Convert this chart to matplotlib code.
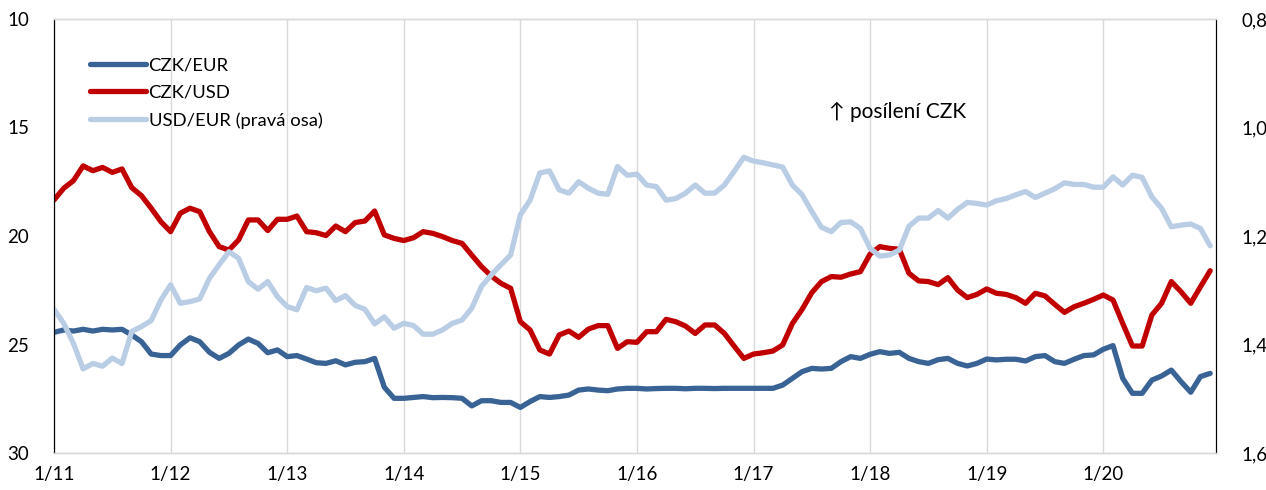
import matplotlib
matplotlib.use('Agg')

import numpy as np
import matplotlib.pyplot as plt
from matplotlib.ticker import FuncFormatter

# monthly averages, 1/2011 - 12/2020
czk_eur = [24.44, 24.33, 24.38, 24.30, 24.38, 24.30, 24.33, 24.30, 24.56, 24.87,
           25.44, 25.51, 25.51, 25.02, 24.69, 24.87, 25.36, 25.64, 25.41, 25.02,
           24.75, 24.95, 25.38, 25.25, 25.56, 25.51, 25.67, 25.84, 25.87, 25.75,
           25.94, 25.82, 25.79, 25.64, 26.97, 27.48, 27.48, 27.44, 27.40, 27.45,
           27.44, 27.45, 27.48, 27.83, 27.59, 27.59, 27.67, 27.67, 27.90, 27.63,
           27.40, 27.44, 27.40, 27.33, 27.10, 27.05, 27.10, 27.13, 27.05, 27.02,
           27.02, 27.05, 27.03, 27.02, 27.02, 27.04, 27.02, 27.02, 27.03, 27.02,
           27.02, 27.02, 27.02, 27.02, 27.02, 26.87, 26.56, 26.25, 26.10, 26.13,
           26.10, 25.79, 25.56, 25.64, 25.45, 25.33, 25.41, 25.36, 25.64, 25.79,
           25.87, 25.70, 25.64, 25.87, 25.99, 25.87, 25.67, 25.71, 25.68, 25.68,
           25.76, 25.56, 25.51, 25.79, 25.87, 25.68, 25.51, 25.48, 25.22, 25.05,
           26.56, 27.25, 27.25, 26.64, 26.45, 26.18, 26.71, 27.20, 26.48, 26.33]

czk_usd = [18.34, 17.80, 17.45, 16.77, 16.99, 16.84, 17.07, 16.91, 17.77, 18.14,
           18.72, 19.34, 19.80, 18.95, 18.72, 18.88, 19.80, 20.49, 20.65, 20.18,
           19.26, 19.26, 19.75, 19.23, 19.23, 19.08, 19.80, 19.85, 19.98, 19.54,
           19.80, 19.38, 19.31, 18.85, 19.95, 20.11, 20.21, 20.08, 19.80, 19.88,
           20.03, 20.21, 20.34, 20.88, 21.41, 21.84, 22.18, 22.41, 23.95, 24.33,
           25.25, 25.44, 24.56, 24.38, 24.67, 24.29, 24.13, 24.13, 25.18, 24.87,
           24.90, 24.41, 24.41, 23.84, 23.95, 24.15, 24.49, 24.10, 24.10, 24.49,
           25.07, 25.64, 25.44, 25.38, 25.30, 25.02, 24.03, 23.38, 22.61, 22.10,
           21.87, 21.90, 21.75, 21.64, 20.83, 20.49, 20.57, 20.61, 21.72, 22.07,
           22.10, 22.24, 21.92, 22.49, 22.84, 22.69, 22.44, 22.64, 22.69, 22.84,
           23.10, 22.64, 22.76, 23.15, 23.52, 23.26, 23.10, 22.92, 22.72, 22.95,
           24.03, 25.07, 25.07, 23.64, 23.10, 22.10, 22.57, 23.10, 22.34, 21.60]

usd_eur = [1.335, 1.361, 1.398, 1.445, 1.435, 1.440, 1.425, 1.435, 1.376, 1.367,
           1.356, 1.318, 1.290, 1.324, 1.321, 1.316, 1.278, 1.253, 1.229, 1.241,
           1.284, 1.298, 1.284, 1.312, 1.330, 1.336, 1.295, 1.301, 1.296, 1.319,
           1.310, 1.328, 1.335, 1.362, 1.349, 1.370, 1.361, 1.365, 1.381, 1.381,
           1.373, 1.361, 1.355, 1.333, 1.293, 1.272, 1.253, 1.235, 1.161, 1.134,
           1.084, 1.080, 1.115, 1.121, 1.100, 1.112, 1.121, 1.123, 1.072, 1.088,
           1.086, 1.106, 1.109, 1.134, 1.131, 1.121, 1.106, 1.121, 1.121, 1.106,
           1.081, 1.055, 1.062, 1.065, 1.069, 1.073, 1.106, 1.124, 1.155, 1.184,
           1.192, 1.175, 1.174, 1.186, 1.223, 1.237, 1.235, 1.226, 1.182, 1.167,
           1.167, 1.153, 1.167, 1.151, 1.138, 1.140, 1.143, 1.135, 1.131, 1.124,
           1.118, 1.129, 1.121, 1.113, 1.102, 1.105, 1.105, 1.110, 1.110, 1.091,
           1.106, 1.088, 1.092, 1.128, 1.149, 1.183, 1.180, 1.178, 1.186, 1.218]

year_labels = ['1/11', '1/12', '1/13', '1/14', '1/15', '1/16', '1/17', '1/18', '1/19', '1/20']

colors = ['#3A6395', '#C00000', '#B9CDE5']
grid_col = '#D9D9D9'

plt.rcParams['font.family'] = ['Lato', 'DejaVu Sans']

months = np.arange(len(czk_eur))

fig = plt.figure(figsize=(12.66, 4.9), dpi=100)
ax = fig.add_axes([54 / 1266, 1 - 453 / 490, (1216 - 54) / 1266, (453 - 19) / 490])
ax2 = ax.twinx()

l1, = ax.plot(months, czk_eur, color=colors[0], lw=3.8, solid_capstyle='round', label='CZK/EUR')
l2, = ax.plot(months, czk_usd, color=colors[1], lw=3.8, solid_capstyle='round', label='CZK/USD')
l3, = ax2.plot(months, usd_eur, color=colors[2], lw=3.8, solid_capstyle='round',
               label='USD/EUR (pravá osa)')

ax.set_xlim(0, 119.6)
ax.set_ylim(30, 10)
ax.set_yticks([10, 15, 20, 25, 30])
ax2.set_ylim(1.6, 0.8)
ax2.set_yticks([0.8, 1.0, 1.2, 1.4, 1.6])
ax2.yaxis.set_major_formatter(FuncFormatter(lambda v, p: ('%.1f' % v).replace('.', ',')))

ax.set_xticks(np.arange(0, 120, 12))
ax.set_xticklabels(year_labels)
ax.grid(axis='x', color=grid_col, lw=1.0)
ax.set_axisbelow(True)

for a in (ax, ax2):
    a.tick_params(length=0, labelsize=13.5, colors='black')
    a.spines['top'].set_color(grid_col)
    a.spines['bottom'].set_color(grid_col)
    a.spines['top'].set_linewidth(1.0)
    a.spines['bottom'].set_linewidth(1.0)
    a.spines['left'].set_color('black')
    a.spines['right'].set_color('black')
ax.tick_params(axis='y', pad=18)
ax2.tick_params(axis='y', pad=18)
ax.tick_params(axis='x', pad=9)

leg = ax.legend(handles=[l1, l2, l3], loc='upper left', bbox_to_anchor=(0.017, 0.95),
                frameon=False, fontsize=13.3, handlelength=3.0, handletextpad=0.15,
                labelspacing=0.62)

ax.text(79.8, 14.3, '\u2191 posílení CZK', fontsize=15, va='center', ha='left',
        family=['Lato', 'DejaVu Sans'])

plt.savefig('out.png', dpi=100)
